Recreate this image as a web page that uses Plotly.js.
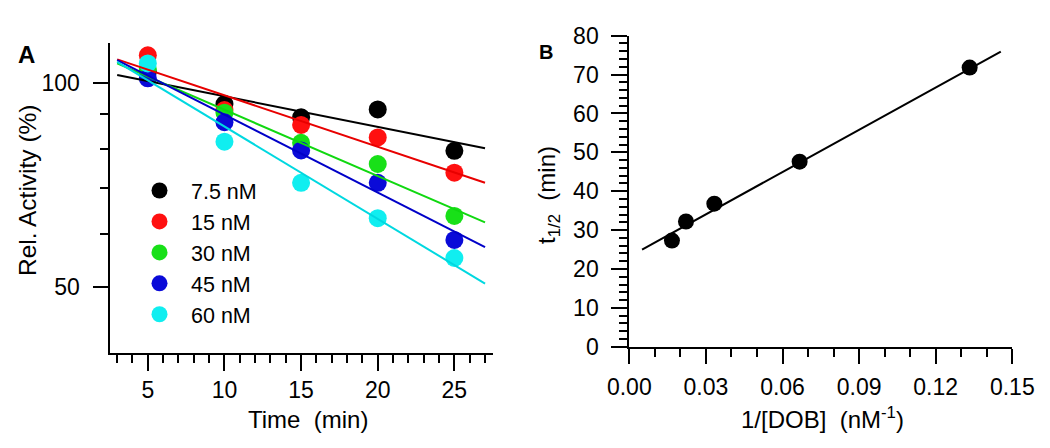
<!DOCTYPE html>
<html>
<head>
<meta charset="utf-8">
<script src="https://cdn.plot.ly/plotly-3.0.1.min.js"></script>
<style>html,body{margin:0;padding:0;background:#fff;}#chart{width:1050px;height:448px;}</style>
</head>
<body>
<div id="chart"></div>
<script>
// Panel A: relative activity vs time (log y)
var time = [5, 10, 15, 20, 25];
var act75 = [104, 93.2, 89.1, 91.5, 79.5];
var act15 = [110, 91.3, 86.8, 83.2, 73.8];
var act30 = [105, 90.5, 81.7, 76.0, 63.7];
var act45 = [101.7, 87.6, 79.6, 71.3, 58.7];
var act60 = [107, 82.0, 71.3, 63.2, 55.2];
var fitTime = [3, 27];
var fit75 = [102.9, 80.2];
var fit15 = [108.5, 71.3];
var fit30 = [107.0, 62.3];
var fit45 = [108.2, 57.3];
var fit60 = [107.6, 50.6];
var seriesNames = ['7.5 nM', '15 nM', '30 nM', '45 nM', '60 nM'];
var markerColors = ['#000000', '#ff1010', '#18e018', '#0a0ad8', '#10eef0'];
var lineColors = ['#000000', '#e80000', '#10d810', '#0000c8', '#00d8e0'];

// Panel B: half-life vs 1/[DOB]
var invDOB = [0.0167, 0.0222, 0.0333, 0.0667, 0.1333];
var halfLife = [27.3, 32.2, 36.8, 47.6, 71.8];
var fitInvDOB = [0.005, 0.1455];
var fitHalfLife = [25.0, 75.9];

var FONT = '"Liberation Sans", Arial, Helvetica, sans-serif';
var W = 1050, H = 448;
function px(x){ return x / W; }
function py(y){ return 1 - y / H; }

var actData = [act75, act15, act30, act45, act60];
var fitData = [fit75, fit15, fit30, fit45, fit60];
var traces = [];
for (var i = 0; i < 5; i++) {
  traces.push({
    x: time, y: actData[i], type: 'scatter', mode: 'markers',
    name: seriesNames[i],
    xaxis: 'x', yaxis: 'y',
    marker: {color: markerColors[i], size: 18},
    showlegend: true
  });
}
for (var j = 0; j < 5; j++) {
  traces.push({
    x: fitTime, y: fitData[j], type: 'scatter', mode: 'lines',
    xaxis: 'x', yaxis: 'y', showlegend: false, hoverinfo: 'skip',
    line: {color: lineColors[j], width: 2}
  });
}
traces.push({
  x: invDOB, y: halfLife, type: 'scatter', mode: 'markers',
  xaxis: 'x2', yaxis: 'y2', showlegend: false,
  marker: {color: '#000000', size: 16}
});
traces.push({
  x: fitInvDOB, y: fitHalfLife, type: 'scatter', mode: 'lines',
  xaxis: 'x2', yaxis: 'y2', showlegend: false, hoverinfo: 'skip',
  line: {color: '#000000', width: 2}
});

var tickFont = {family: FONT, size: 23, color: '#000'};
var layout = {
  width: W, height: H,
  margin: {l: 0, r: 0, t: 0, b: 0},
  paper_bgcolor: '#fff', plot_bgcolor: '#fff',
  font: {family: FONT, color: '#000'},
  showlegend: true,
  legend: {
    x: px(128), y: py(170), xanchor: 'left', yanchor: 'top',
    font: {family: FONT, size: 21.5, color: '#000'},
    bgcolor: 'rgba(0,0,0,0)', borderwidth: 0,
    tracegroupgap: 0, itemwidth: 53
  },
  xaxis: {
    domain: [px(109.5), px(492.7)], range: [2.5, 27.5],
    anchor: 'y', showgrid: false, zeroline: false,
    showline: true, linecolor: '#000', linewidth: 2,
    ticks: 'outside', ticklen: 16, tickwidth: 2, tickcolor: '#000',
    tickmode: 'array', tickvals: [5, 10, 15, 20, 25],
    tickfont: tickFont, ticklabelstandoff: 0,
    minor: {ticks: 'outside', dtick: 1, tick0: 0, ticklen: 8, tickwidth: 2, tickcolor: '#000', showgrid: false}
  },
  yaxis: {
    domain: [py(352.7), py(43)], type: 'log',
    range: [Math.log10(40), Math.log10(114.7)],
    anchor: 'x', showgrid: false, zeroline: false,
    showline: true, linecolor: '#000', linewidth: 2,
    ticks: 'outside', ticklen: 15, tickwidth: 2, tickcolor: '#000',
    tickmode: 'array', tickvals: [50, 100], ticktext: ['50', '100'],
    tickfont: tickFont, ticklabelstandoff: 8,
    minor: {ticks: 'outside', tickmode: 'array', tickvals: [60, 70, 80, 90], ticklen: 8, tickwidth: 2, tickcolor: '#000', showgrid: false}
  },
  xaxis2: {
    domain: [px(629.3), px(1012.3)], range: [0, 0.15],
    anchor: 'y2', showgrid: false, zeroline: false,
    showline: true, linecolor: '#000', linewidth: 2,
    ticks: 'outside', ticklen: 15, tickwidth: 2, tickcolor: '#000',
    tickmode: 'linear', tick0: 0, dtick: 0.03, tickformat: '.2f',
    tickfont: tickFont, ticklabelstandoff: 4,
    minor: {ticks: 'outside', dtick: 0.01, tick0: 0, ticklen: 8, tickwidth: 2, tickcolor: '#000', showgrid: false}
  },
  yaxis2: {
    domain: [py(346.7), py(35.7)], range: [0, 80],
    anchor: 'x2', showgrid: false, zeroline: false,
    showline: true, linecolor: '#000', linewidth: 2,
    ticks: 'outside', ticklen: 16, tickwidth: 2, tickcolor: '#000',
    tickmode: 'linear', tick0: 0, dtick: 10,
    tickfont: tickFont, ticklabelstandoff: 8,
    minor: {ticks: 'outside', dtick: 2, tick0: 0, ticklen: 8, tickwidth: 2, tickcolor: '#000', showgrid: false}
  },
  annotations: [
    {text: '<b>A</b>', xref: 'paper', yref: 'paper', x: px(26), y: py(54), xanchor: 'center', yanchor: 'middle', showarrow: false, font: {family: FONT, size: 24, color: '#000'}},
    {text: '<b>B</b>', xref: 'paper', yref: 'paper', x: px(546), y: py(52), xanchor: 'center', yanchor: 'middle', showarrow: false, font: {family: FONT, size: 20, color: '#000'}},
    {text: 'Rel. Activity (%)', xref: 'paper', yref: 'paper', x: px(28), y: py(190), xanchor: 'center', yanchor: 'middle', textangle: -90, showarrow: false, font: {family: FONT, size: 24.5, color: '#000'}},
    {text: 'Time\u00a0\u00a0(min)', xref: 'paper', yref: 'paper', x: px(308), y: py(419), xanchor: 'center', yanchor: 'middle', showarrow: false, font: {family: FONT, size: 24, color: '#000'}},
    {text: 't<sub>1/2</sub>\u00a0\u00a0(min)', xref: 'paper', yref: 'paper', x: px(548), y: py(195), xanchor: 'center', yanchor: 'middle', textangle: -90, showarrow: false, font: {family: FONT, size: 24, color: '#000'}},
    {text: '1/[DOB]\u00a0\u00a0(nM<sup>-1</sup>)', xref: 'paper', yref: 'paper', x: px(822), y: py(418), xanchor: 'center', yanchor: 'middle', showarrow: false, font: {family: FONT, size: 24, color: '#000'}}
  ]
};

Plotly.newPlot('chart', traces, layout, {staticPlot: true, displayModeBar: false});
</script>
</body>
</html>
